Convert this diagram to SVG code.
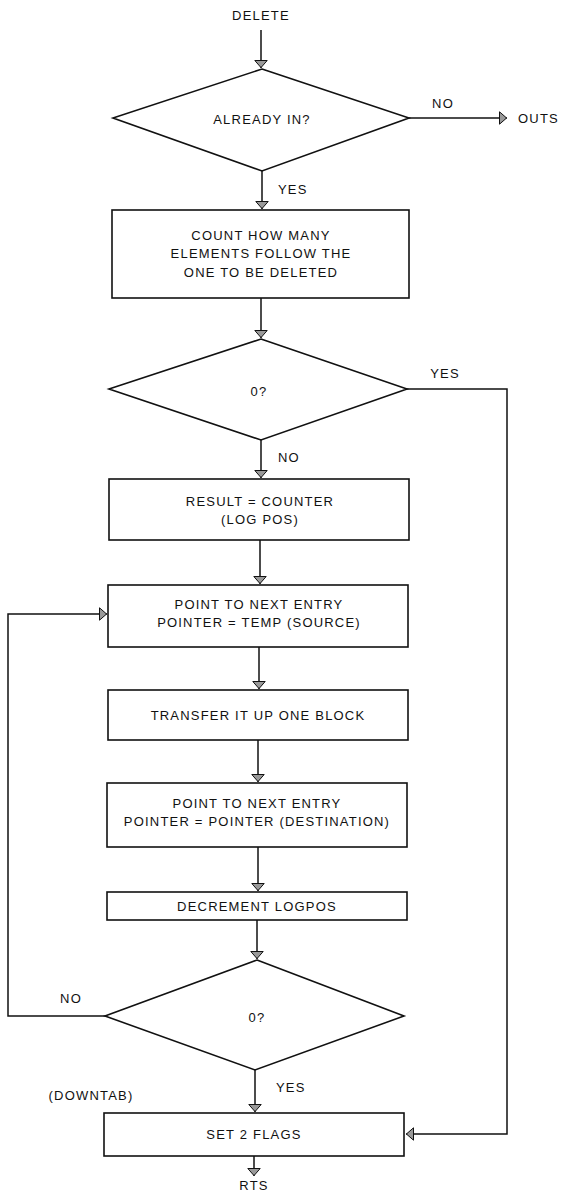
<svg xmlns="http://www.w3.org/2000/svg" width="561" height="1194" viewBox="0 0 561 1194">
<style>
.shape{fill:#fff;stroke:#111;stroke-width:1.6}
.conn{fill:none;stroke:#111;stroke-width:1.5}
text{font-family:"Liberation Sans",Arial,sans-serif;font-size:13px;letter-spacing:1.2px;fill:#111;text-anchor:middle}
.st{text-anchor:start}
</style>
<defs>
<marker id="arr" viewBox="0 0 8 14" refX="8" refY="7" markerWidth="8" markerHeight="14" orient="auto" markerUnits="userSpaceOnUse">
<path d="M0.5,0.8 L7.6,7 L0.5,13.2 z" fill="#999" stroke="#111" stroke-width="1"/>
</marker>
</defs>
<rect width="561" height="1194" fill="#fff"/>
<g id="connectors">
<path class="conn" d="M261,30 V68" marker-end="url(#arr)"/>
<path class="conn" d="M409,118 H507" marker-end="url(#arr)"/>
<path class="conn" d="M262,171 V209" marker-end="url(#arr)"/>
<path class="conn" d="M261,298 V338" marker-end="url(#arr)"/>
<path class="conn" d="M407,389 H507 V1134 H406" marker-end="url(#arr)"/>
<path class="conn" d="M261,440 V478" marker-end="url(#arr)"/>
<path class="conn" d="M260,540 V584" marker-end="url(#arr)"/>
<path class="conn" d="M259,647 V689" marker-end="url(#arr)"/>
<path class="conn" d="M258,740 V782" marker-end="url(#arr)"/>
<path class="conn" d="M258,847 V891" marker-end="url(#arr)"/>
<path class="conn" d="M257,920 V959" marker-end="url(#arr)"/>
<path class="conn" d="M105,1016 H8 V614 H107" marker-end="url(#arr)"/>
<path class="conn" d="M255,1070 V1112" marker-end="url(#arr)"/>
<path class="conn" d="M254,1156 V1176" marker-end="url(#arr)"/>
</g>
<g id="start"><text x="261" y="20">DELETE</text></g>
<g id="already-in">
<polygon class="shape" points="262,69 409,118 262,171 113,118"/>
<text x="262" y="124">ALREADY IN?</text>
</g>
<g id="label-no1"><text x="443" y="108">NO</text></g>
<g id="outs"><text class="st" x="518" y="123">OUTS</text></g>
<g id="label-yes1"><text class="st" x="278" y="194">YES</text></g>
<g id="count">
<rect class="shape" x="112" y="210" width="297" height="88"/>
<text x="261" y="240">COUNT HOW MANY</text>
<text x="261" y="258">ELEMENTS FOLLOW THE</text>
<text x="261" y="277">ONE TO BE DELETED</text>
</g>
<g id="zero1">
<polygon class="shape" points="261,339 407,389 261,440 109,389"/>
<text x="259" y="396">0?</text>
</g>
<g id="label-yes2"><text x="445" y="378">YES</text></g>
<g id="label-no2"><text class="st" x="278" y="462">NO</text></g>
<g id="result">
<rect class="shape" x="109" y="479" width="300" height="61"/>
<text x="260" y="506">RESULT = COUNTER</text>
<text x="260" y="524">(LOG POS)</text>
</g>
<g id="point-source">
<rect class="shape" x="108" y="585" width="300" height="62"/>
<text x="259" y="609">POINT TO NEXT ENTRY</text>
<text x="259" y="627">POINTER = TEMP (SOURCE)</text>
</g>
<g id="transfer">
<rect class="shape" x="108" y="690" width="300" height="50"/>
<text x="258" y="720">TRANSFER IT UP ONE BLOCK</text>
</g>
<g id="point-dest">
<rect class="shape" x="107" y="783" width="300" height="64"/>
<text x="257" y="808">POINT TO NEXT ENTRY</text>
<text x="257" y="826">POINTER = POINTER (DESTINATION)</text>
</g>
<g id="decrement">
<rect class="shape" x="107" y="892" width="300" height="28"/>
<text x="257" y="911">DECREMENT LOGPOS</text>
</g>
<g id="zero2">
<polygon class="shape" points="257,960 404,1016 255,1070 105,1016"/>
<text x="257" y="1022">0?</text>
</g>
<g id="label-no3"><text x="71" y="1003">NO</text></g>
<g id="label-yes3"><text class="st" x="276" y="1092">YES</text></g>
<g id="downtab"><text x="91" y="1100">(DOWNTAB)</text></g>
<g id="set-flags">
<rect class="shape" x="104" y="1113" width="300" height="43"/>
<text x="254" y="1139">SET 2 FLAGS</text>
</g>
<g id="rts"><text x="254" y="1190">RTS</text></g>
</svg>
